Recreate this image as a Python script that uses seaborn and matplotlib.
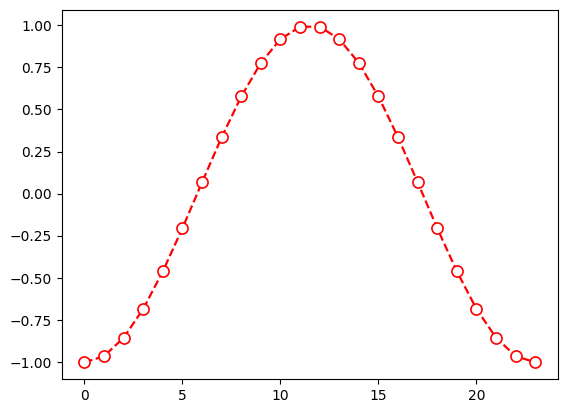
import matplotlib
matplotlib.use("Agg")
import matplotlib.pyplot as plt
import seaborn as sns
import pandas as pd

x_vals = list(range(24))
y_vals = [-1.000, -0.963, -0.854, -0.683, -0.460, -0.204, 0.068, 0.335,
          0.577, 0.776, 0.917, 0.991, 0.991, 0.917, 0.776, 0.577,
          0.335, 0.068, -0.204, -0.460, -0.683, -0.854, -0.963, -1.000]

df = pd.DataFrame({"x": x_vals, "y": y_vals})

fig, ax = plt.subplots(figsize=(5.68, 4.13), dpi=100)
fig.subplots_adjust(left=0.109, right=0.982, top=0.976, bottom=0.082)
sns.lineplot(data=df, x="x", y="y", ax=ax, color="red", linestyle="--",
             linewidth=1.6, marker="o", markersize=8, markerfacecolor="white",
             markeredgecolor="red", markeredgewidth=1.2)
ax.set_xlabel("")
ax.set_ylabel("")
ax.set_xticks([0, 5, 10, 15, 20])
ax.set_yticks([-1.0, -0.75, -0.5, -0.25, 0.0, 0.25, 0.5, 0.75, 1.0])
fig.savefig("out.png", dpi=100)
